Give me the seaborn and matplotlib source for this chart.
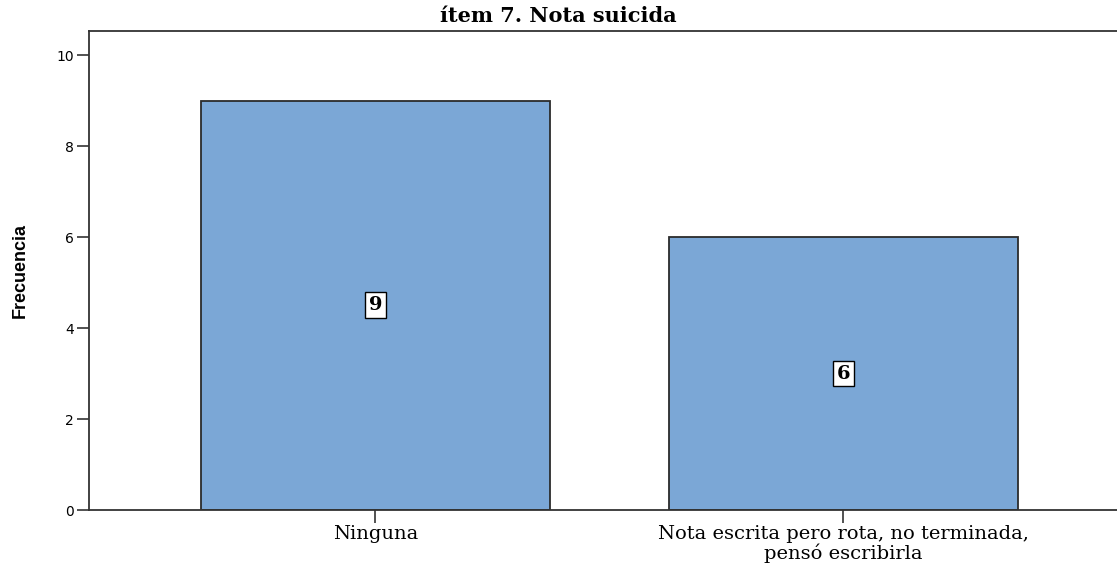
import pandas as pd
import matplotlib.pyplot as plt
import seaborn as sns

# Data
categorias = ["Ninguna", "Nota escrita pero rota, no terminada,\npensó escribirla"]
frecuencias = [9, 6]
y_ticks = [0, 2, 4, 6, 8, 10]

titulo = "ítem 7. Nota suicida"
etiqueta_y = "Frecuencia"

df = pd.DataFrame({"categoria": categorias, "frecuencia": frecuencias})

sns.set_style("white")

fig = plt.figure(figsize=(11.17, 5.66), dpi=100)
ax = fig.add_axes([89 / 1117, 56 / 566, 1040 / 1117, 479 / 566])

sns.barplot(data=df, x="categoria", y="frecuencia", color="#7BA7D6",
            width=0.747, edgecolor="#2b2b2b", linewidth=1.3, saturation=1,
            ax=ax)

# value labels in white boxes, centred in each bar
for cont in ax.containers:
    ax.bar_label(cont, label_type="center", fontsize=14, fontweight="bold",
                 family="DejaVu Serif", color="black",
                 bbox=dict(boxstyle="square,pad=0.2", facecolor="white",
                           edgecolor="black", linewidth=1.0))

ax.set_ylim(0, 10.53)
ax.set_xlim(-0.612, 1.61)
ax.set_yticks(y_ticks)
ax.set_yticklabels([str(t) for t in y_ticks], fontsize=10, family="DejaVu Sans",
                   color="black")
ax.tick_params(axis="y", direction="out", length=9, width=1.2, color="#333333", pad=2, left=True)
ax.tick_params(axis="x", direction="out", length=9, width=1.2, color="#333333", pad=2, bottom=True)
for lbl in ax.get_xticklabels():
    lbl.set_family("DejaVu Serif")
    lbl.set_fontsize(14)
    lbl.set_linespacing(1.0)
    lbl.set_color("black")

ax.set_xlabel("")
ax.set_ylabel(etiqueta_y, fontsize=13, fontweight="bold", color="black",
              family=["Liberation Sans Narrow", "Liberation Sans"], labelpad=20)
fig.text(0.5, 0.972, titulo, ha="center", va="center", fontsize=15,
         fontweight="bold", family="DejaVu Serif", color="black")

for side in ["left", "bottom", "top"]:
    ax.spines[side].set_color("#333333")
    ax.spines[side].set_linewidth(1.3)
ax.spines["right"].set_visible(False)

fig.savefig("out.png", dpi=100)
